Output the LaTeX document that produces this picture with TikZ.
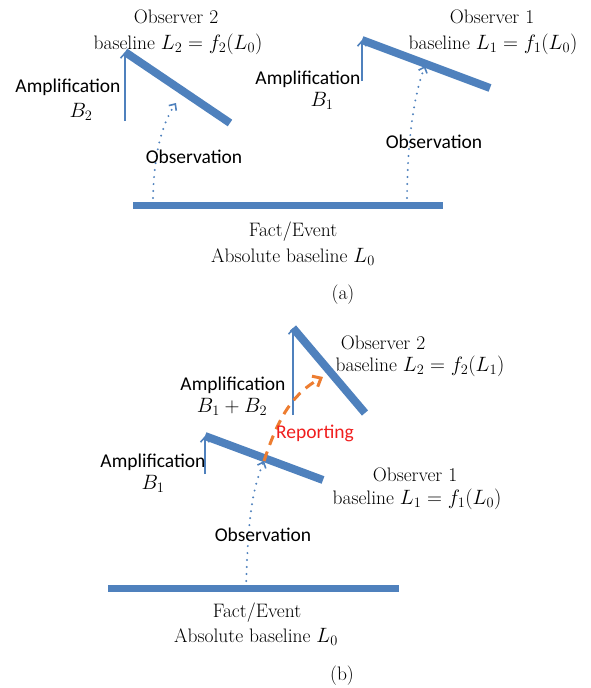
\documentclass[tikz,border=0pt]{standalone}
\usepackage{fontspec}
\newfontfamily\calibri{Carlito}
\usetikzlibrary{arrows.meta}
\definecolor{obsBlue}{RGB}{79,129,189}
\definecolor{repOrange}{RGB}{237,125,49}
\definecolor{repRed}{RGB}{240,30,30}
\tikzset{
  serifText/.style={inner sep=0pt, font=\fontsize{19.5}{23}\selectfont},
  sansText/.style={inner sep=0pt, font=\calibri\fontsize{19.5}{23}\selectfont},
  obsBar/.style={draw=obsBlue, line width=8pt},
  baseBar/.style={draw=obsBlue, line width=7pt},
  ampArrow/.style={draw=obsBlue, line width=1.6pt, -{Straight Barb[length=5pt,width=9pt]}},
  obsArrow/.style={draw=obsBlue, line width=2.2pt, line cap=round, dash pattern=on 0pt off 7pt,
    -{Straight Barb[length=5pt,width=9pt,line width=1.6pt]}},
  repArrow/.style={draw=repOrange, line width=3pt, dash pattern=on 10pt off 7pt,
    -{Straight Barb[length=7pt,width=12pt]}}
}
\begin{document}
\begin{tikzpicture}[x=1pt, y=-1pt]
    \useasboundingbox (0,0) rectangle (590,688);

    % (a)
    \coordinate (factA1) at (133,205);
    \coordinate (factA2) at (443,205);
    \coordinate (obsTwoA1) at (125,52);
    \coordinate (obsTwoA2) at (230,123);
    \coordinate (ampTwoA) at (125,121);
    \coordinate (obsOneA1) at (362,40);
    \coordinate (obsOneA2) at (490,88);
    \coordinate (ampOneA) at (362,81);
    \coordinate (seeTwoA0) at (153,205);
    \coordinate (seeTwoA1) at (176,103);
    \coordinate (seeOneA0) at (407,205);
    \coordinate (seeOneA1) at (425,66);

    \draw[baseBar] (factA1) -- (factA2);
    \draw[obsBar] (obsTwoA1) -- (obsTwoA2);
    \draw[obsBar] (obsOneA1) -- (obsOneA2);
    \draw[ampArrow] (ampTwoA) -- (obsTwoA1);
    \draw[ampArrow] (ampOneA) -- (obsOneA1);
    \draw[obsArrow] (seeTwoA0) .. controls (153,165) and (159,128) .. (seeTwoA1);
    \draw[obsArrow] (seeOneA0) .. controls (407,140) and (414,95) .. (seeOneA1);

    \node[serifText] (titleTwoA) at (176,17) {Observer 2};
    \node[serifText] (baseTwoA) at (178,44) {baseline $L_2 = f_2(L_0)$};
    \node[serifText] (titleOneA) at (492,17) {Observer 1};
    \node[serifText] (baseOneA) at (493,44) {baseline $L_1 = f_1(L_0)$};
    \node[sansText] (ampTextTwoA) at (68,87) {Amplification};
    \node[serifText] (ampValTwoA) at (81,112) {$B_2$};
    \node[sansText] (ampTextOneA) at (308,79) {Amplification};
    \node[serifText] (ampValOneA) at (322,101) {$B_1$};
    \node[sansText] (seeTextTwoA) at (194,157) {Observation};
    \node[sansText] (seeTextOneA) at (434,142) {Observation};
    \node[serifText] (factTextA) at (293,232) {Fact/Event};
    \node[serifText] (absTextA) at (293,257) {Absolute baseline $L_0$};
    \node[serifText] (capA) at (343,295) {(a)};

    % (b)
    \coordinate (factB1) at (108,588);
    \coordinate (factB2) at (399,588);
    \coordinate (obsOneB1) at (205,436);
    \coordinate (obsOneB2) at (323,480);
    \coordinate (ampOneB) at (205,474);
    \coordinate (obsTwoB1) at (293,328);
    \coordinate (obsTwoB2) at (365,413);
    \coordinate (ampTwoB) at (293,415);
    \coordinate (seeB0) at (246,588);
    \coordinate (seeB1) at (264,461);
    \coordinate (repB1) at (323,377);

    \draw[baseBar] (factB1) -- (factB2);
    \draw[obsBar] (obsOneB1) -- (obsOneB2);
    \draw[obsBar] (obsTwoB1) -- (obsTwoB2);
    \draw[ampArrow] (ampOneB) -- (obsOneB1);
    \draw[ampArrow] (ampTwoB) -- (obsTwoB1);
    \draw[obsArrow] (seeB0) .. controls (248,520) and (252,490) .. (seeB1);
    \draw[repArrow] (seeB1) .. controls (277,422) and (290,395) .. (repB1);

    \node[serifText] (titleTwoB) at (383,343) {Observer 2};
    \node[serifText] (baseTwoB) at (420,366) {baseline $L_2 = f_2(L_1)$};
    \node[serifText] (titleOneB) at (415,475) {Observer 1};
    \node[serifText] (baseOneB) at (417,499) {baseline $L_1 = f_1(L_0)$};
    \node[sansText] (ampTextTwoB) at (233,385) {Amplification};
    \node[serifText] (ampValTwoB) at (232,407) {$B_1 + B_2$};
    \node[sansText] (ampTextOneB) at (153,462) {Amplification};
    \node[serifText] (ampValOneB) at (153,484) {$B_1$};
    \node[sansText, text=repRed] (repText) at (315,433) {Reporting};
    \node[sansText] (seeTextB) at (263,535) {Observation};
    \node[serifText] (factTextB) at (257,613) {Fact/Event};
    \node[serifText] (absTextB) at (256,637) {Absolute baseline $L_0$};
    \node[serifText] (capB) at (342,676) {(b)};
\end{tikzpicture}
\end{document}
